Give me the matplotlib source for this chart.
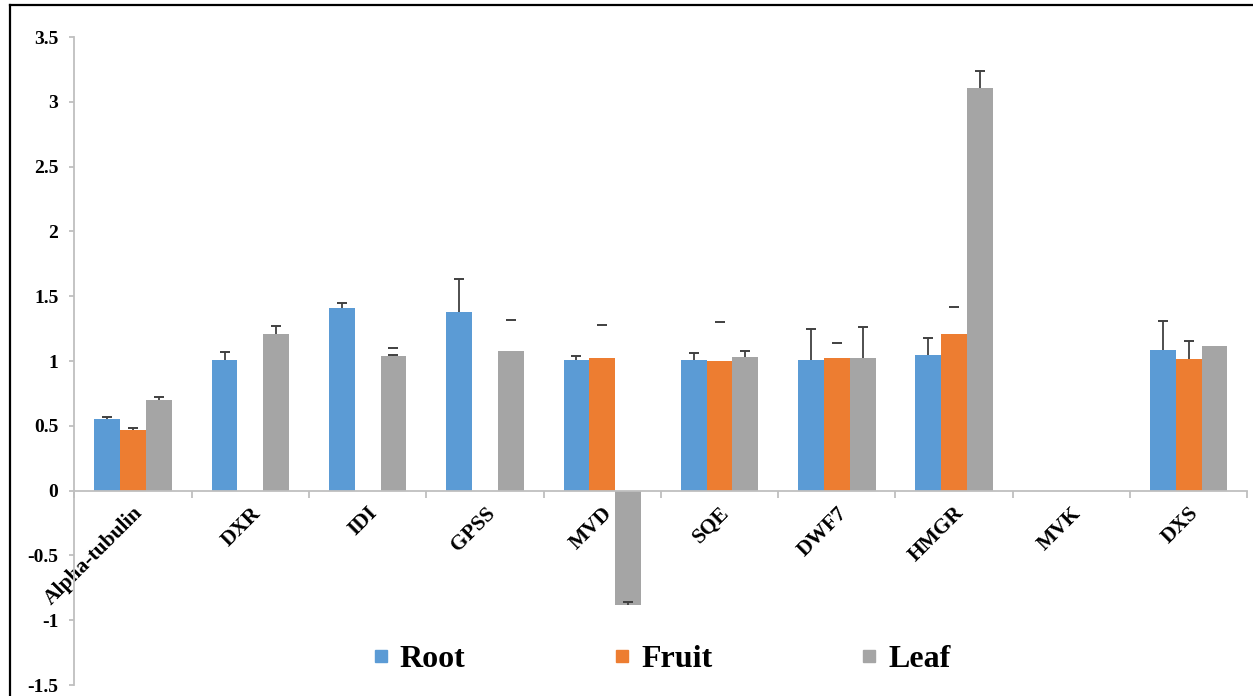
import matplotlib.pyplot as plt
import numpy as np
from matplotlib.lines import Line2D

# Relative expression of pathway genes per tissue
genes = ["Alpha-tubulin", "DXR", "IDI", "GPSS", "MVD", "SQE", "DWF7", "HMGR", "MVK", "DXS"]
root = [0.55, 1.005, 1.41, 1.375, 1.005, 1.01, 1.01, 1.05, np.nan, 1.087]
fruit = [0.47, np.nan, np.nan, np.nan, 1.02, 1.0, 1.025, 1.21, np.nan, 1.018]
leaf = [0.70, 1.21, 1.04, 1.075, -0.88, 1.03, 1.02, 3.11, np.nan, 1.115]
root_err = [0.02, 0.065, 0.04, 0.255, 0.035, 0.05, 0.24, 0.125, 0, 0.22]
fruit_err = [0.01, 0, 0, 0, 0, 0, 0, 0, 0, 0.14]
leaf_err = [0.02, 0.06, 0.005, 0, 0.02, 0.045, 0.24, 0.13, 0, 0]

# loose error caps with no bar line (gene index, series index, value)
loose_gene = [2, 3, 4, 5, 6, 7]
loose_series = [2, 2, 1, 1, 1, 1]
loose_value = [1.10, 1.32, 1.275, 1.30, 1.14, 1.415]

series_names = ["Root", "Fruit", "Leaf"]
colors = ["#5B9BD5", "#ED7D31", "#A5A5A5"]

serif = ["Liberation Serif", "DejaVu Serif"]
err_color = "#404040"

fig = plt.figure(figsize=(12.53, 6.96), dpi=100)
ax = fig.add_axes([0.0594, 0.0158, 0.9361, 0.9310])

x = np.arange(len(genes))
w = 0.22
offsets = [-w, 0, w]
for vals, errs, off, col, name in zip([root, fruit, leaf], [root_err, fruit_err, leaf_err],
                                      offsets, colors, series_names):
    vals = np.array(vals, dtype=float)
    errs = np.array(errs, dtype=float)
    ax.bar(x + off, vals, width=w, color=col, label=name, zorder=2)
    # plus-direction error bars only, cap on the far end
    mask = ~np.isnan(vals) & (errs > 0)
    xs = x[mask] + off
    ax.vlines(xs, vals[mask], vals[mask] + errs[mask], color=err_color, linewidth=1.3, zorder=3)
    ax.plot(xs, vals[mask] + errs[mask], linestyle="none", marker="_", markersize=7,
            markeredgewidth=1.4, color=err_color, zorder=3)

ax.plot(np.array(loose_gene) + np.array(offsets)[loose_series], loose_value,
        linestyle="none", marker="_", markersize=7, markeredgewidth=1.4,
        color=err_color, zorder=3)

ax.set_xlim(-0.5, len(genes) - 0.5)
ax.set_ylim(-1.5, 3.5)
ax.set_yticks(np.arange(-1.5, 3.51, 0.5))
ax.set_yticklabels(["-1.5", "-1", "-0.5", "0", "0.5", "1", "1.5", "2", "2.5", "3", "3.5"])

for s in ["top", "right"]:
    ax.spines[s].set_visible(False)
ax.spines["bottom"].set_position(("data", 0))
ax.spines["bottom"].set_color("#BFBFBF")
ax.spines["left"].set_color("#BFBFBF")
ax.spines["bottom"].set_linewidth(1.3)
ax.spines["left"].set_linewidth(1.3)

ax.set_xticks(x)
ax.set_xticklabels(genes, rotation=45, ha="right", rotation_mode="anchor",
                   fontsize=15.5, fontweight="bold", family=serif)
ax.set_xticks(np.arange(-0.5, len(genes), 1.0), minor=True)
ax.tick_params(axis="x", which="major", length=0, pad=9)
ax.tick_params(axis="x", which="minor", length=5, width=1.3, color="#BFBFBF", direction="out")
ax.tick_params(axis="y", length=3.6, width=1.3, color="#BFBFBF", pad=8)
for lbl in ax.get_yticklabels():
    lbl.set_fontsize(14)
    lbl.set_fontweight("bold")
    lbl.set_family(serif)

handles = [Line2D([], [], linestyle="none", marker="s", markersize=9,
                  markerfacecolor=c, markeredgecolor=c) for c in colors]
ax.legend(handles, series_names, loc="center", bbox_to_anchor=(0.5, 0.039), ncol=3,
          frameon=False, columnspacing=4.6, handletextpad=0.3, handlelength=0.6,
          prop={"family": serif, "weight": "bold", "size": 23})

# outer frame on the left and top edges
fig.add_artist(Line2D([10 / 1253, 10 / 1253], [0, 1 - 5 / 696], color="black",
                      linewidth=1.6, transform=fig.transFigure))
fig.add_artist(Line2D([10 / 1253, 1], [1 - 5 / 696, 1 - 5 / 696], color="black",
                      linewidth=1.6, transform=fig.transFigure))

fig.savefig("out.png", dpi=100)
